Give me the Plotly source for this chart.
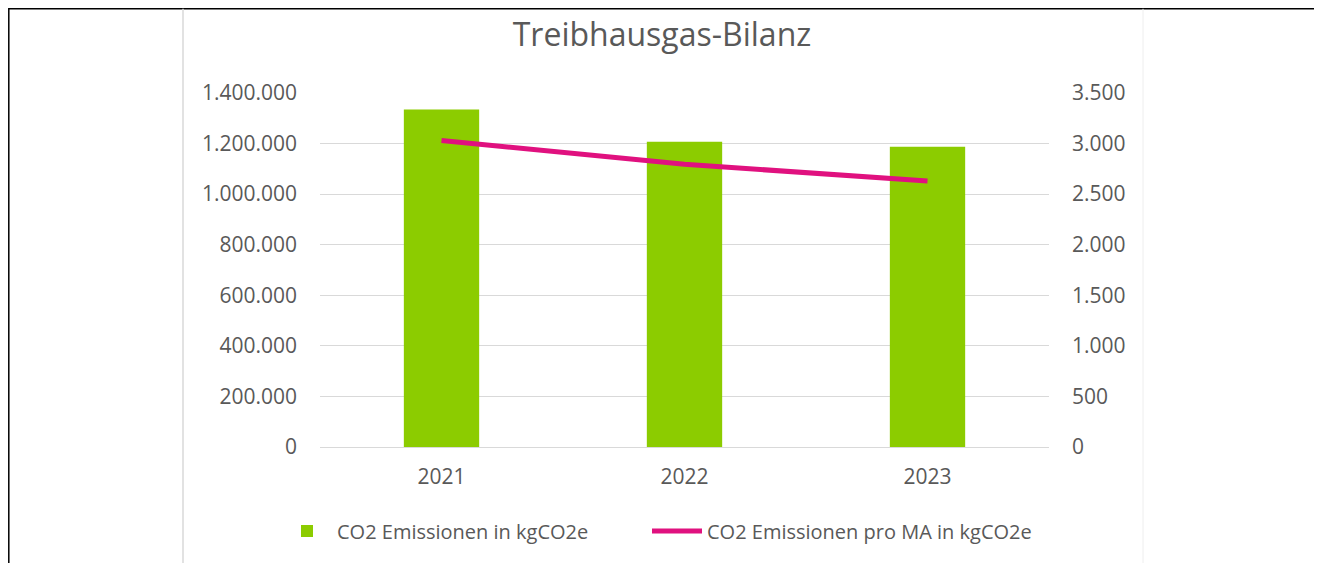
import plotly.graph_objects as go

years = ["2021", "2022", "2023"]
emissions_total = [1335000, 1207000, 1187000]
emissions_per_ma = [3030, 2795, 2630]
left_ticks = [0, 200000, 400000, 600000, 800000, 1000000, 1200000, 1400000]
right_ticks = [0, 500, 1000, 1500, 2000, 2500, 3000, 3500]

W, H = 1322, 563
OFF = 8  # page body margin
L, R, T, B = 320 - OFF, 1049 - OFF, 93 - OFF, 447 - OFF


def px(x):
    return (x - OFF - L) / (R - L)


def py(y):
    return (B - (y - OFF)) / (B - T)


FONT = "Open Sans"
TXT = "#595959"

fig = go.Figure()
fig.add_trace(go.Bar(
    x=years, y=emissions_total, name="CO2 Emissionen in kgCO2e",
    marker=dict(color="#8ccc00", line=dict(width=0)), width=0.31,
    legend="legend", showlegend=True,
))
fig.add_trace(go.Scatter(
    x=years, y=emissions_per_ma, name="CO2 Emissionen pro MA in kgCO2e",
    mode="lines", line=dict(color="#e0117f", width=5), yaxis="y2",
    legend="legend2", showlegend=True,
))

shapes = [
    dict(type="rect", xref="paper", yref="paper", x0=px(8.8), x1=px(1316), y0=py(640), y1=py(8.8),
         line=dict(color="#000000", width=1.5), layer="below"),
    dict(type="line", xref="paper", yref="paper", x0=px(183), x1=px(183), y0=py(640), y1=py(8.8),
         line=dict(color="#d9d9d9", width=1.5), layer="below"),
    dict(type="line", xref="paper", yref="paper", x0=px(1143), x1=px(1143), y0=py(640), y1=py(8.8),
         line=dict(color="#eeeeee", width=1), layer="below"),
]

legend_common = dict(orientation="h", yanchor="middle", y=py(531),
                     font=dict(size=20, color=TXT), itemwidth=50, bgcolor="rgba(0,0,0,0)")

fig.update_layout(
    width=W, height=H,
    showlegend=True,
    margin=dict(l=L, r=W - R, t=T, b=H - B, pad=0),
    paper_bgcolor="white", plot_bgcolor="white",
    separators=",.",
    font=dict(family=FONT, color=TXT, size=20),
    title=dict(text="Treibhausgas-Bilanz", x=(662 - OFF) / W, xanchor="center", xref="container",
               y=1 - (35 - OFF) / H, yanchor="middle", yref="container",
               font=dict(family=FONT, size=32, color=TXT)),
    xaxis=dict(type="category", showgrid=False, showline=False, ticks="",
               tickfont=dict(size=21, color=TXT), ticklabelstandoff=15),
    yaxis=dict(range=[0, 1400000], tickvals=left_ticks, tickformat=",d",
               showgrid=True, gridcolor="#d9d9d9", gridwidth=1, zeroline=True,
               zerolinecolor="#d9d9d9", zerolinewidth=1, showline=False, ticks="",
               tickfont=dict(size=21, color=TXT), ticklabelstandoff=22),
    yaxis2=dict(range=[0, 3500], tickvals=right_ticks, tickformat=",d", overlaying="y",
                side="right", showgrid=False, zeroline=False, showline=False, ticks="",
                tickfont=dict(size=21, color=TXT), ticklabelstandoff=22),
    legend=dict(x=px(277), xanchor="left", **legend_common),
    legend2=dict(x=px(647), xanchor="left", **legend_common),
    shapes=shapes,
    bargap=0.69,
)

fig.write_html("out.html")
